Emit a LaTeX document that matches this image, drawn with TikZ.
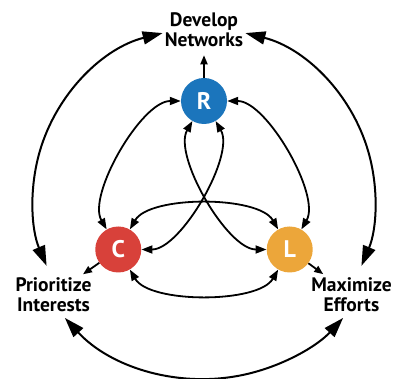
\documentclass[tikz,border=0pt]{standalone}
\usepackage{fontspec}
\setmainfont{PT Sans}
\usetikzlibrary{arrows.meta,positioning}

\definecolor{rblue}{RGB}{27,117,188}
\definecolor{cred}{RGB}{216,65,58}
\definecolor{lorange}{RGB}{236,166,58}

\begin{document}
\begin{tikzpicture}[x=1pt,y=1pt,
  every node/.style={font=\bfseries\fontsize{19.5}{20}\selectfont,align=center},
  lbl/.style={inner sep=0pt},
  ball/.style={circle,minimum size=46pt,inner sep=0pt,text=white,font=\bfseries\fontsize{24}{24}\selectfont},
  link/.style={<->,>={Triangle[length=11pt,width=8pt]},line width=1.8pt},
  outarrow/.style={->,>={Triangle[length=9pt,width=7pt]},line width=1.8pt},
  bigarrow/.style={<->,>={Triangle[length=20pt,width=13pt]},line width=2pt}
]
\useasboundingbox (-204,-179) rectangle (194,200);
\coordinate (mid) at (0,1);
\coordinate (low) at (0,10);

% the three circles
\node[ball,fill=rblue] (R) at (90:99) {R};
\node[ball,fill=cred] (C) at (210:99) {C};
\node[ball,fill=lorange] (L) at (330:99) {L};

% goals
\node[lbl] (dev) at (0,170) {Develop\\Networks};
\node[lbl] (prio) at (-150.5,-95) {Prioritize\\Interests};
\node[lbl] (maxi) at (147.5,-95) {Maximize\\Efforts};

% two links per pair, outside and through the middle
\foreach \a/\b in {R/C,C/L,L/R}{
  \draw[link] (\a) to[bend right=60,looseness=0.68] (\b);
  \draw[link] (\a) to[bend left=60,looseness=0.68] (\b);
}

\draw[outarrow,shorten >=8pt] (R) -- (dev);
\draw[outarrow,shorten >=6pt] (C) -- (prio);
\draw[outarrow,shorten >=6pt] (L) -- (maxi);

% outer ring
\draw[bigarrow] ([shift={(104:171)}]mid) arc[start angle=104,end angle=203,radius=171];
\draw[bigarrow] ([shift={(76:171)}]mid) arc[start angle=76,end angle=-23,radius=171];
\draw[bigarrow] ([shift={(222.6:189)}]low) arc[start angle=222.6,end angle=317.4,radius=189];
\end{tikzpicture}
\end{document}
